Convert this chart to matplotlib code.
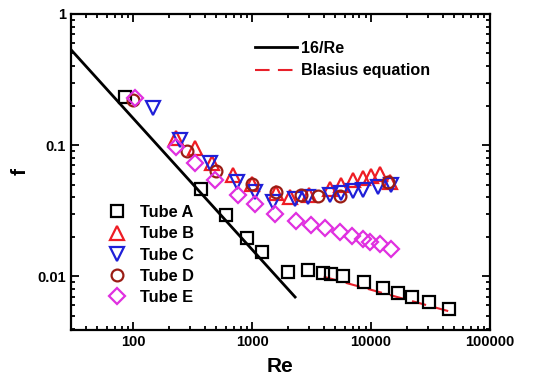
import numpy as np
import matplotlib
matplotlib.use("Agg")
import matplotlib.pyplot as plt
from matplotlib.lines import Line2D

plt.rcParams['font.family'] = ['Liberation Sans', 'DejaVu Sans']
plt.rcParams['font.weight'] = 'bold'

# Data
re_a = [85, 375, 600, 910, 1210, 2000, 2950, 3950, 4650, 5800, 8700, 12600, 16900, 22200, 31000, 45000]
f_a = [0.231, 0.046, 0.0294, 0.0196, 0.0154, 0.0107, 0.0112, 0.0106, 0.0105, 0.0100, 0.0091, 0.0082, 0.0075, 0.0070, 0.00635, 0.00565]

re_b = [230, 330, 460, 690, 1000, 1600, 2100, 3000, 4500, 5600, 7000, 8500, 10000, 11800, 14500]
f_b = [0.114, 0.095, 0.073, 0.059, 0.051, 0.043, 0.040, 0.042, 0.046, 0.050, 0.054, 0.056, 0.058, 0.060, 0.052]

re_c = [147, 247, 440, 740, 1050, 1500, 2280, 2950, 4500, 5600, 7000, 8600, 11500, 14800]
f_c = [0.193, 0.109, 0.073, 0.052, 0.0436, 0.037, 0.039, 0.0406, 0.0418, 0.043, 0.0444, 0.0457, 0.048, 0.0499]

re_d = [100, 281, 500, 990, 1600, 2600, 3600, 5500, 14000]
f_d = [0.22, 0.090, 0.064, 0.051, 0.044, 0.042, 0.041, 0.041, 0.052]

re_e = [103, 231, 330, 485, 760, 1050, 1550, 2350, 3150, 4070, 5450, 6960, 8570, 9870, 11800, 14800]
f_e = [0.23, 0.0965, 0.073, 0.0546, 0.0418, 0.0355, 0.030, 0.0266, 0.0246, 0.0232, 0.0216, 0.0203, 0.0191, 0.0183, 0.0175, 0.0163]

lam_re = [30, 2300]
blas_re = [4000, 50000]

fig = plt.figure(figsize=(5.51, 3.78), dpi=100)
ax = fig.add_axes([0.129, 0.127, 0.760, 0.836])

lam_x = np.array(lam_re, dtype=float)
ax.plot(lam_x, 16.0 / lam_x, color='black', lw=2.0)
bl_x = np.logspace(np.log10(blas_re[0]), np.log10(blas_re[1]), 30)
ax.plot(bl_x, 0.079 * bl_x ** -0.25, color='#e8202a', lw=1.5, dashes=(7, 4))

ms = 9
mew = 1.6
ax.plot(re_a, f_a, 's', mfc='none', mec='black', ms=ms - 0.5, mew=mew, zorder=3)
ax.plot(re_b, f_b, '^', mfc='none', mec='#ee1c24', ms=ms + 0.5, mew=mew, zorder=3)
ax.plot(re_c, f_c, 'v', mfc='none', mec='#1f1fd8', ms=ms + 0.5, mew=mew, zorder=3)
ax.plot(re_d, f_d, 'o', mfc='none', mec='#9a1c14', ms=ms - 0.5, mew=mew, zorder=3)
ax.plot(re_e, f_e, 'D', mfc='none', mec='#e030e0', ms=ms - 1, mew=mew, zorder=3)

ax.set_xscale('log')
ax.set_yscale('log')
ax.set_xlim(30, 100000)
ax.set_ylim(0.0039, 1)
ax.set_xticks([100, 1000, 10000, 100000])
ax.set_xticklabels(['100', '1000', '10000', '100000'])
ax.set_yticks([0.01, 0.1, 1])
ax.set_yticklabels(['0.01', '0.1', '1'])
ax.tick_params(which='both', direction='in', top=True, right=True, labelsize=10.5, width=1.3)
ax.tick_params(which='major', length=6)
ax.tick_params(which='minor', length=3)
for s in ax.spines.values():
    s.set_linewidth(1.6)

ax.set_xlabel('Re', fontsize=15, fontweight='bold', labelpad=6)
ax.set_ylabel('f', fontsize=15, fontweight='bold', labelpad=6)

h1 = [Line2D([], [], ls='none', marker='s', mfc='none', mec='black', ms=ms - 0.5, mew=mew),
      Line2D([], [], ls='none', marker='^', mfc='none', mec='#ee1c24', ms=ms + 0.5, mew=mew),
      Line2D([], [], ls='none', marker='v', mfc='none', mec='#1f1fd8', ms=ms + 0.5, mew=mew),
      Line2D([], [], ls='none', marker='o', mfc='none', mec='#9a1c14', ms=ms - 0.5, mew=mew),
      Line2D([], [], ls='none', marker='D', mfc='none', mec='#e030e0', ms=ms - 1, mew=mew)]
leg1 = ax.legend(h1, ['Tube A', 'Tube B', 'Tube C', 'Tube D', 'Tube E'], loc='lower left',
                 bbox_to_anchor=(0.075, 0.058), frameon=False, fontsize=11.8, handlelength=1.0,
                 handletextpad=0.9, labelspacing=0.38, borderaxespad=0)
ax.add_artist(leg1)
h2 = [Line2D([], [], color='black', lw=2.0),
      Line2D([], [], color='#e8202a', lw=1.5, dashes=(7, 4))]
ax.legend(h2, ['16/Re', 'Blasius equation'], loc='upper left', bbox_to_anchor=(0.425, 0.935),
          frameon=False, fontsize=11.6, handlelength=2.6, handletextpad=0.2, labelspacing=0.45,
          borderaxespad=0)

fig.savefig('out.png', dpi=100)
